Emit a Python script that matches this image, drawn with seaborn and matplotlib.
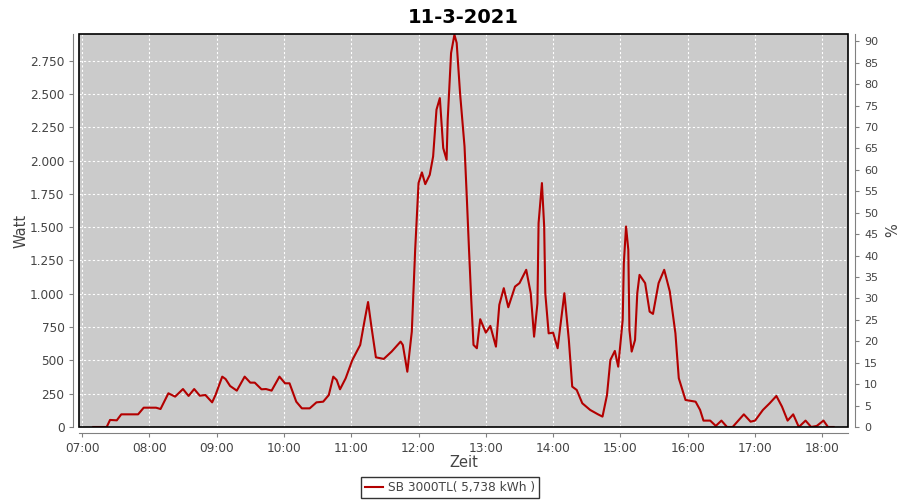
import matplotlib
matplotlib.use("Agg")
import matplotlib.pyplot as plt
import matplotlib.dates as mdates
from matplotlib.ticker import FuncFormatter, MultipleLocator
from matplotlib.patches import Rectangle
import seaborn as sns
import pandas as pd

title = "11-3-2021"
day = "2021-03-11"
series_label = "SB 3000TL( 5,738 kWh )"

times = ["07:10", "07:22", "07:25", "07:31", "07:35", "07:50", "07:55", "08:06", "08:10", "08:17",
         "08:23", "08:30", "08:35", "08:40", "08:45", "08:50", "08:56", "08:59", "09:05", "09:08",
         "09:12", "09:18", "09:25", "09:30", "09:34", "09:40", "09:44", "09:49", "09:56", "10:01",
         "10:05", "10:11", "10:16", "10:23", "10:29", "10:35", "10:40", "10:44", "10:47", "10:50",
         "10:55", "11:01", "11:08", "11:12", "11:15", "11:18", "11:22", "11:29", "11:36", "11:44",
         "11:46", "11:50", "11:54", "11:57", "12:00", "12:03", "12:06", "12:10", "12:13", "12:16",
         "12:19", "12:22", "12:25", "12:26", "12:29", "12:32", "12:34", "12:37", "12:41", "12:43",
         "12:45", "12:47", "12:49", "12:52", "12:55", "13:00", "13:04", "13:09", "13:12", "13:16",
         "13:20", "13:26", "13:30", "13:36", "13:40", "13:43", "13:46", "13:47", "13:50", "13:52",
         "13:53", "13:56", "14:00", "14:04", "14:10", "14:14", "14:17", "14:21", "14:26", "14:33",
         "14:40", "14:44", "14:48", "14:51", "14:55", "14:58", "15:02", "15:03", "15:05", "15:07",
         "15:08", "15:10", "15:13", "15:15", "15:17", "15:22", "15:26", "15:29", "15:34", "15:39",
         "15:44", "15:49", "15:52", "15:58", "16:07", "16:11", "16:14", "16:20", "16:25", "16:30",
         "16:35", "16:40", "16:50", "16:56", "17:00", "17:07", "17:13", "17:19", "17:24", "17:29",
         "17:34", "17:39", "17:45", "17:50", "17:55", "18:01", "18:05", "18:10"]
watts = [0, 0, 53, 50, 95, 95, 145, 145, 135, 253,
         228, 285, 233, 285, 235, 240, 185, 240, 378, 360,
         308, 273, 378, 333, 333, 283, 285, 273, 378, 328,
         328, 190, 140, 140, 185, 190, 240, 378, 353, 283,
         365, 503, 616, 804, 938, 753, 523, 511, 566, 641,
         616, 415, 716, 1330, 1831, 1911, 1823, 1893, 2031, 2382,
         2469, 2094, 2006, 2306, 2807, 2945, 2883, 2507, 2106, 1730,
         1330, 954, 616, 591, 809, 708, 759, 603, 917, 1042,
         899, 1054, 1080, 1180, 1004, 678, 929, 1530, 1831, 1505,
         1004, 703, 708, 591, 1004, 653, 303, 278, 178, 128,
         95, 78, 240, 503, 571, 453, 804, 1229, 1505, 1330,
         729, 566, 653, 1004, 1142, 1080, 866, 849, 1080, 1180,
         1017, 703, 366, 203, 190, 128, 48, 48, 8, 48,
         0, 0, 95, 40, 48, 128, 178, 233, 153, 48,
         95, 0, 48, 0, 8, 48, 0, 0]

df = pd.DataFrame({"time": pd.to_datetime([f"{day} {t}" for t in times]), "watt": watts})

plt.rcParams["font.family"] = ["DejaVu Sans"]
fig = plt.figure(figsize=(9, 5), dpi=100)
ax = fig.add_axes([0.0878, 0.146, 0.8544, 0.786])
ax.set_facecolor("#cbcbcb")

sns.lineplot(data=df, x="time", y="watt", ax=ax, color="#b30000", linewidth=1.5,
             estimator=None, label=series_label, zorder=3)

ax.set_xlim(pd.Timestamp(f"{day} 06:57:20"), pd.Timestamp(f"{day} 18:22:50"))
ax.set_ylim(0, 2950)
ax.xaxis.set_major_locator(mdates.HourLocator())
ax.xaxis.set_major_formatter(mdates.DateFormatter("%H:%M"))
ax.yaxis.set_major_locator(MultipleLocator(250))
ax.yaxis.set_major_formatter(FuncFormatter(lambda v, p: f"{int(round(v)):,}".replace(",", ".")))

ax.grid(True, color="white", linestyle=(0, (2, 2)), linewidth=0.8)
ax.set_axisbelow(True)

gray = "#808080"
txt = "#444444"
for s in ["left", "bottom"]:
    ax.spines[s].set_position(("outward", 4))
    ax.spines[s].set_color(gray)
ax.spines["top"].set_visible(False)
ax.spines["right"].set_visible(False)
ax.tick_params(axis="both", colors=gray, labelcolor=txt, labelsize=8.7, length=3, width=0.8)
ax.set_xlabel("Zeit", fontsize=10.5, color=txt, labelpad=0)
ax.set_ylabel("Watt", fontsize=10.5, color=txt, labelpad=1)

ax.add_patch(Rectangle((0, 0), 1, 1, transform=ax.transAxes, fill=False,
                       edgecolor="black", linewidth=1.2, zorder=10, clip_on=False))

ax2 = ax.twinx()
ax2.set_ylim(0, 91.7)
ax2.yaxis.set_major_locator(MultipleLocator(5))
for s in ["left", "bottom", "top"]:
    ax2.spines[s].set_visible(False)
ax2.spines["right"].set_position(("outward", 5))
ax2.spines["right"].set_color(gray)
ax2.tick_params(axis="y", colors=gray, labelcolor=txt, labelsize=8, length=3, width=0.8)
ax2.set_ylabel("%", fontsize=10.5, color=txt, labelpad=5)

ax.set_title(title, fontsize=14, fontweight="bold", pad=8)

handles, labels = ax.get_legend_handles_labels()
ax.get_legend().remove()
leg = fig.legend(handles, labels, loc="lower center", bbox_to_anchor=(0.5, 0.0),
                 fontsize=8.7, frameon=True, fancybox=False, handlelength=1.5,
                 borderpad=0.3, handletextpad=0.4, borderaxespad=0.2)
leg.get_frame().set_edgecolor("black")
leg.get_frame().set_linewidth(1.0)
for t in leg.get_texts():
    t.set_color(txt)

fig.savefig("out.png", dpi=100)
